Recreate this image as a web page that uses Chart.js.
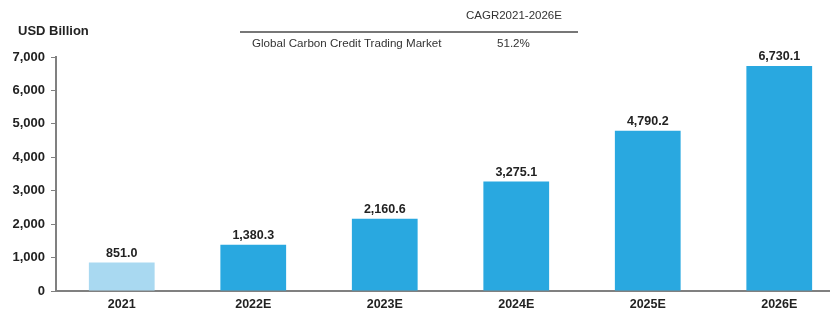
<!DOCTYPE html>
<html>
<head>
<meta charset="utf-8">
<script src="https://cdn.jsdelivr.net/npm/chart.js@4/dist/chart.umd.min.js"></script>
<style>
html,body{margin:0;padding:0;background:#fff;overflow:hidden;width:830px;height:317px;}
#wrap{position:absolute;left:0;top:0;width:845px;height:317px;}
.t{position:absolute;font-family:"Liberation Sans",Arial,sans-serif;color:#333;white-space:nowrap;}
#unit{left:18px;top:23px;font-size:13px;font-weight:bold;color:#222;}
#cagr{left:466px;top:9px;font-size:11.5px;}
#rule{position:absolute;left:240px;top:31px;width:338px;height:2px;background:#777;}
#mkt{left:252px;top:36px;font-size:11.6px;}
#val{left:497px;top:36px;font-size:11.6px;}
</style>
</head>
<body>
<div id="wrap"><canvas id="c" width="845" height="317"></canvas></div>
<div class="t" id="unit">USD Billion</div>
<div class="t" id="cagr">CAGR2021-2026E</div>
<div id="rule"></div>
<div class="t" id="mkt">Global Carbon Credit Trading Market</div>
<div class="t" id="val">51.2%</div>
<script>
const categories = ["2021","2022E","2023E","2024E","2025E","2026E"];
const values = [851.0, 1380.3, 2160.6, 3275.1, 4790.2, 6730.1];
const yTicks = [0,1000,2000,3000,4000,5000,6000,7000];
const barColors = ["#a9d9f1","#29a8e0","#29a8e0","#29a8e0","#29a8e0","#29a8e0"];

const labelPlugin = {
  id: 'barLabels',
  afterDatasetsDraw(chart) {
    const ctx = chart.ctx;
    const meta = chart.getDatasetMeta(0);
    ctx.save();
    ctx.font = 'bold 12.5px "Liberation Sans", Arial, sans-serif';
    ctx.fillStyle = '#222';
    ctx.textAlign = 'center';
    ctx.textBaseline = 'bottom';
    meta.data.forEach((el, i) => {
      const v = values[i].toLocaleString('en-US',{minimumFractionDigits:1,maximumFractionDigits:1});
      ctx.fillText(v, el.x, el.y - 3);
    });
    ctx.restore();
  }
};

new Chart(document.getElementById('c'), {
  type: 'bar',
  data: {
    labels: categories,
    datasets: [{
      data: values,
      backgroundColor: barColors,
      borderWidth: 0,
      barPercentage: 0.5,
      categoryPercentage: 1.0
    }]
  },
  options: {
    responsive: false,
    animation: false,
    events: [],
    layout: { padding: { top: 57, left: 0, right: 0, bottom: 0 } },
    plugins: { legend: { display: false }, tooltip: { enabled: false } },
    scales: {
      x: {
        grid: { display: false, drawTicks: false },
        border: { display: true, color: '#808080', width: 2 },
        ticks: { color: '#222', font: { family: '"Liberation Sans", Arial, sans-serif', size: 12.5, weight: 'bold' }, padding: 6 },
        afterFit(s) { s.height = 26; }
      },
      y: {
        min: 0, max: 7000,
        afterBuildTicks(s) { s.ticks = yTicks.map(v => ({ value: v })); },
        grid: { display: true, drawOnChartArea: false, drawTicks: true, tickLength: 5, color: '#808080', lineWidth: 1 },
        border: { display: true, color: '#808080', width: 2 },
        ticks: {
          color: '#222', padding: 6,
          font: { family: '"Liberation Sans", Arial, sans-serif', size: 13, weight: 'bold' },
          callback: v => v.toLocaleString('en-US')
        },
        afterFit(s) { s.width = 56; }
      }
    }
  },
  plugins: [labelPlugin]
});
</script>
</body>
</html>
